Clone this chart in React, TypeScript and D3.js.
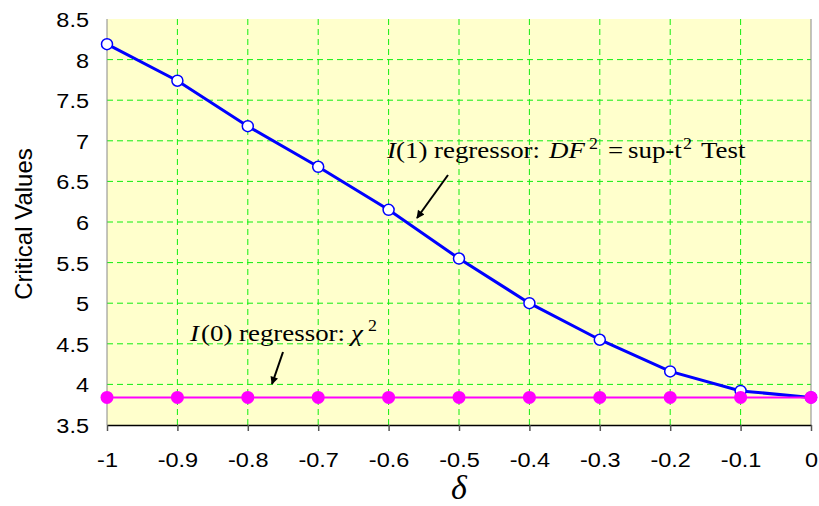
import React, { useEffect, useRef } from "react";
import * as d3 from "d3";

const deltas = [-1, -0.9, -0.8, -0.7, -0.6, -0.5, -0.4, -0.3, -0.2, -0.1, 0];
const i1Values = [8.19, 7.74, 7.18, 6.68, 6.15, 5.55, 5.0, 4.55, 4.16, 3.92, 3.84];
const i0Values = [3.84, 3.84, 3.84, 3.84, 3.84, 3.84, 3.84, 3.84, 3.84, 3.84, 3.84];
const yTicks = [3.5, 4, 4.5, 5, 5.5, 6, 6.5, 7, 7.5, 8, 8.5];

export default function App() {
  const svgRef = useRef<SVGSVGElement>(null);

  useEffect(() => {
    const svg = d3.select(svgRef.current);
    svg.selectAll("*").remove();

    const W = 819;
    const H = 506;
    const m = { top: 19, right: 8, bottom: 81, left: 107 };
    const x = d3.scaleLinear().domain([-1, 0]).range([m.left, W - m.right]);
    const y = d3.scaleLinear().domain([3.5, 8.5]).range([H - m.bottom, m.top]);
    const sans = "Arial, 'Liberation Sans', sans-serif";
    const serif = "'Times New Roman', 'Liberation Serif', serif";

    const defs = svg.append("defs");
    defs
      .append("marker")
      .attr("id", "arrow")
      .attr("viewBox", "0 0 10 10")
      .attr("refX", 9)
      .attr("refY", 5)
      .attr("markerWidth", 5)
      .attr("markerHeight", 4)
      .attr("orient", "auto")
      .append("path")
      .attr("d", "M0,0 L10,5 L0,10 z")
      .attr("fill", "#000");

    svg
      .append("rect")
      .attr("x", x(-1))
      .attr("y", y(8.5))
      .attr("width", x(0) - x(-1))
      .attr("height", y(3.5) - y(8.5))
      .attr("fill", "#ffffcc");

    // grid
    svg
      .append("g")
      .selectAll("line")
      .data(yTicks.slice(1, -1))
      .join("line")
      .attr("x1", x(-1))
      .attr("x2", x(0))
      .attr("y1", (d) => y(d))
      .attr("y2", (d) => y(d))
      .attr("stroke", "#11ee11")
      .attr("stroke-width", 1)
      .attr("stroke-dasharray", "6,4");
    svg
      .append("g")
      .selectAll("line")
      .data(deltas.slice(1, -1))
      .join("line")
      .attr("x1", (d) => x(d))
      .attr("x2", (d) => x(d))
      .attr("y1", y(8.5))
      .attr("y2", y(3.5))
      .attr("stroke", "#11ee11")
      .attr("stroke-width", 1)
      .attr("stroke-dasharray", "6,4");

    // frame
    svg
      .append("line")
      .attr("x1", x(-1)).attr("x2", x(-1))
      .attr("y1", y(8.5)).attr("y2", y(3.5))
      .attr("stroke", "#888");
    svg
      .append("line")
      .attr("x1", x(0)).attr("x2", x(0))
      .attr("y1", y(8.5)).attr("y2", y(3.5))
      .attr("stroke", "#888");

    const xAxis = svg
      .append("g")
      .attr("transform", `translate(0,${y(3.5)})`)
      .call(
        d3
          .axisBottom(x)
          .tickValues(deltas)
          .tickSize(6)
          .tickSizeOuter(0)
          .tickFormat((d) => String(+d))
      );
    xAxis.select(".domain").attr("stroke", "#000").attr("stroke-width", 1.5);
    xAxis.selectAll(".tick line").attr("stroke", "#555").attr("stroke-width", 1.5);
    xAxis
      .selectAll(".tick text")
      .attr("y", 0)
      .attr("dy", 0)
      .attr("transform", "translate(0,42) scale(1.12,1)")
      .attr("font-family", sans)
      .attr("font-size", 21)
      .attr("fill", "#000");

    const yAxis = svg
      .append("g")
      .attr("transform", `translate(${x(-1)},0)`)
      .call(d3.axisLeft(y).tickValues(yTicks).tickSize(0).tickFormat((d) => String(d)));
    yAxis.select(".domain").remove();
    yAxis
      .selectAll(".tick text")
      .attr("x", 0)
      .attr("dy", "0.36em")
      .attr("transform", "translate(-18,0) scale(1.12,1)")
      .attr("font-family", sans)
      .attr("font-size", 21)
      .attr("fill", "#000");

    // series
    const line = d3
      .line<number>()
      .x((_, i) => x(deltas[i]))
      .y((d) => y(d));

    svg
      .append("path")
      .datum(i1Values)
      .attr("d", line)
      .attr("fill", "none")
      .attr("stroke", "#0000ff")
      .attr("stroke-width", 3);
    svg
      .append("path")
      .datum(i0Values)
      .attr("d", line)
      .attr("fill", "none")
      .attr("stroke", "#ff00ff")
      .attr("stroke-width", 2);
    svg
      .append("g")
      .selectAll("circle")
      .data(i1Values)
      .join("circle")
      .attr("cx", (_, i) => x(deltas[i]))
      .attr("cy", (d) => y(d))
      .attr("r", 5.5)
      .attr("fill", "#fff")
      .attr("stroke", "#0000ff")
      .attr("stroke-width", 1.5);
    svg
      .append("g")
      .selectAll("circle")
      .data(i0Values)
      .join("circle")
      .attr("cx", (_, i) => x(deltas[i]))
      .attr("cy", (d) => y(d))
      .attr("r", 6.5)
      .attr("fill", "#ff00ff");

    // annotations: pieces of a math label, stretched like the source
    const piece = (
      px: number,
      py: number,
      txt: string,
      opts: { italic?: boolean; size?: number } = {}
    ) =>
      svg
        .append("text")
        .attr("transform", `translate(${px},${py}) scale(1.12,1)`)
        .attr("font-family", serif)
        .attr("font-size", opts.size ?? 24)
        .attr("font-style", opts.italic ? "italic" : "normal")
        .attr("fill", "#000")
        .text(txt);

    piece(387, 158, "I", { italic: true });
    piece(396, 158, "(1) regressor:");
    piece(549, 158, "DF", { italic: true });
    piece(589, 149, "2", { size: 16 });
    piece(608, 158, "=");
    piece(628, 158, "sup-t");
    piece(683, 149, "2", { size: 16 });
    piece(701, 158, "Test");

    svg
      .append("line")
      .attr("x1", 448).attr("y1", 175)
      .attr("x2", 417).attr("y2", 218)
      .attr("stroke", "#000")
      .attr("stroke-width", 2)
      .attr("marker-end", "url(#arrow)");

    piece(190, 341, "I", { italic: true });
    piece(201, 341, "(0) regressor:");
    piece(351, 341, "χ", { italic: true });
    piece(368, 331, "2", { size: 16 });

    svg
      .append("line")
      .attr("x1", 283).attr("y1", 352)
      .attr("x2", 272).attr("y2", 384)
      .attr("stroke", "#000")
      .attr("stroke-width", 2)
      .attr("marker-end", "url(#arrow)");

    svg
      .append("text")
      .attr("transform", `translate(32,${(y(3.5) + y(8.5)) / 2 + 2}) rotate(-90)`)
      .attr("text-anchor", "middle")
      .attr("font-family", sans)
      .attr("font-size", 24)
      .text("Critical Values");

    svg
      .append("text")
      .attr("x", (x(-1) + x(0)) / 2)
      .attr("y", 499)
      .attr("text-anchor", "middle")
      .attr("font-family", serif)
      .attr("font-style", "italic")
      .attr("font-size", 34)
      .text("δ");
  }, []);

  return (
    <div style={{ position: "absolute", left: 0, top: 0 }}>
      <svg ref={svgRef} width={819} height={506} style={{ display: "block", background: "#fff" }} />
    </div>
  );
}
